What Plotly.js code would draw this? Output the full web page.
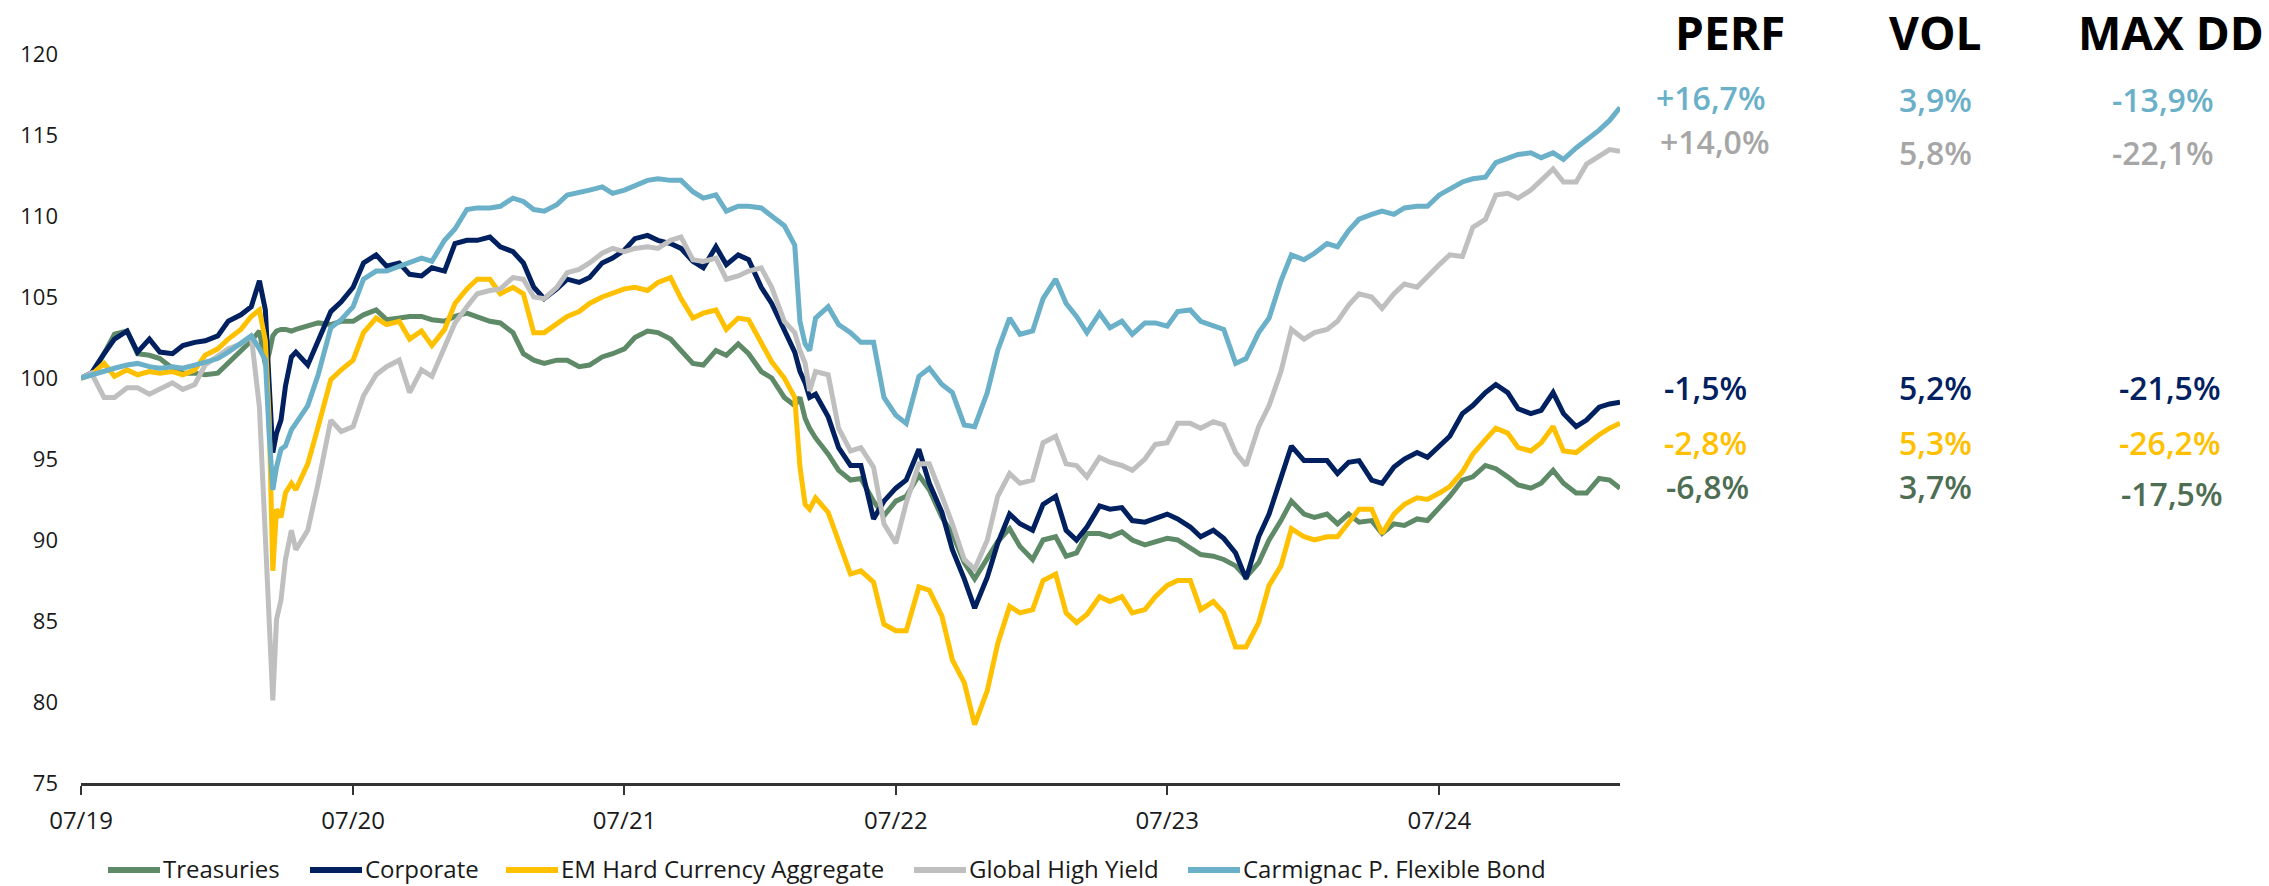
<!DOCTYPE html>
<html><head><meta charset="utf-8">
<script src="https://cdn.plot.ly/plotly-3.0.1.min.js"></script>
<style>html,body{margin:0;padding:0;background:#fff;} #chart{width:2269px;height:886px;}</style>
</head><body><div id="chart"></div>
<script>
// ---------------- DATA ----------------
const dates = [
 '2019-07-01','2019-07-15','2019-08-01','2019-08-15','2019-09-01','2019-09-15','2019-10-01','2019-10-15','2019-11-01','2019-11-15','2019-12-01','2019-12-15',
 '2020-01-01','2020-01-15','2020-02-01','2020-02-15','2020-02-26','2020-03-05','2020-03-10','2020-03-15','2020-03-20','2020-03-26','2020-04-01','2020-04-09','2020-04-15','2020-05-01','2020-05-15','2020-06-01','2020-06-15',
 '2020-07-01','2020-07-15','2020-08-01','2020-08-15','2020-09-01','2020-09-15','2020-10-01','2020-10-15','2020-11-01','2020-11-15','2020-12-01','2020-12-15',
 '2021-01-01','2021-01-15','2021-02-01','2021-02-15','2021-03-01','2021-03-15','2021-04-01','2021-04-15','2021-05-01','2021-05-15','2021-06-01','2021-06-15',
 '2021-07-01','2021-07-15','2021-08-01','2021-08-15','2021-09-01','2021-09-15','2021-10-01','2021-10-15','2021-11-01','2021-11-15','2021-12-01','2021-12-15',
 '2022-01-01','2022-01-15','2022-02-01','2022-02-15','2022-02-22','2022-03-01','2022-03-07','2022-03-15','2022-04-01','2022-04-15','2022-05-01','2022-05-15','2022-06-01','2022-06-15',
 '2022-07-01','2022-07-15','2022-08-01','2022-08-15','2022-09-01','2022-09-15','2022-10-01','2022-10-15','2022-11-01','2022-11-15','2022-12-01','2022-12-15',
 '2023-01-01','2023-01-15','2023-02-01','2023-02-15','2023-03-01','2023-03-15','2023-04-01','2023-04-15','2023-05-01','2023-05-15','2023-06-01','2023-06-15',
 '2023-07-01','2023-07-15','2023-08-01','2023-08-15','2023-09-01','2023-09-15','2023-10-01','2023-10-15','2023-11-01','2023-11-15','2023-12-01','2023-12-15',
 '2024-01-01','2024-01-15','2024-02-01','2024-02-15','2024-03-01','2024-03-15','2024-04-01','2024-04-15','2024-05-01','2024-05-15','2024-06-01','2024-06-15',
 '2024-07-01','2024-07-15','2024-08-01','2024-08-15','2024-09-01','2024-09-15','2024-10-01','2024-10-15','2024-11-01','2024-11-15','2024-12-01','2024-12-15',
 '2025-01-01','2025-01-15','2025-02-01','2025-02-15','2025-03-01'
];

const treasuries = [
 100.0,100.2,101.5,102.7,102.9,101.5,101.4,101.2,100.6,100.3,100.3,100.2,
 100.3,100.9,101.6,102.3,102.9,100.8,101.5,102.6,102.9,103.0,103.0,102.9,103.0,103.2,103.4,103.3,103.5,
 103.5,103.9,104.2,103.6,103.7,103.8,103.8,103.6,103.5,103.8,104.0,103.8,
 103.5,103.4,102.8,101.5,101.1,100.9,101.1,101.1,100.7,100.8,101.3,101.5,
 101.8,102.5,102.9,102.8,102.4,101.7,100.9,100.8,101.7,101.4,102.1,101.5,
 100.4,100.0,98.8,98.3,98.8,97.5,96.9,96.3,95.3,94.3,93.7,93.8,92.4,91.5,
 92.4,92.7,94.0,93.1,91.4,90.4,88.6,87.6,88.8,89.9,90.7,89.6,
 88.8,90.0,90.2,89.0,89.2,90.4,90.4,90.2,90.5,90.0,89.7,89.9,
 90.1,90.0,89.5,89.1,89.0,88.8,88.4,87.7,88.6,90.0,91.2,92.4,
 91.6,91.4,91.6,91.0,91.6,91.1,91.2,90.4,91.0,90.9,91.3,91.2,
 92.0,92.7,93.7,93.9,94.6,94.4,93.9,93.4,93.2,93.5,94.3,93.5,
 92.9,92.9,93.8,93.7,93.2
];

const corporate = [
 100.0,100.3,101.5,102.4,102.9,101.6,102.4,101.6,101.5,102.0,102.2,102.3,
 102.6,103.5,103.9,104.4,106.0,104.2,99.7,95.4,96.6,97.4,99.5,101.3,101.6,100.8,102.3,104.1,104.7,
 105.6,107.1,107.6,106.9,107.1,106.4,106.3,106.8,106.6,108.3,108.5,108.5,
 108.7,108.1,107.8,107.1,105.6,104.9,105.5,106.1,105.9,106.2,107.1,107.4,
 107.9,108.6,108.8,108.5,108.3,108.0,107.2,106.8,108.1,107.0,107.6,107.3,
 105.6,104.6,103.0,101.6,100.4,99.7,98.8,99.0,97.6,95.7,94.6,94.6,91.3,92.4,
 93.2,93.7,95.6,93.5,91.7,89.4,87.6,85.8,87.7,89.8,91.6,91.0,
 90.6,92.2,92.7,90.6,90.0,90.8,92.1,91.9,92.0,91.2,91.1,91.3,
 91.6,91.3,90.8,90.2,90.6,90.1,89.2,87.6,90.2,91.6,93.9,95.8,
 94.9,94.9,94.9,94.1,94.8,94.9,93.7,93.5,94.5,95.0,95.4,95.1,
 95.8,96.4,97.8,98.3,99.1,99.6,99.1,98.1,97.8,98.0,99.1,97.8,
 97.0,97.4,98.2,98.4,98.5
];

const emHardCurrency = [
 100.0,100.2,100.9,100.1,100.5,100.2,100.4,100.3,100.4,100.2,100.5,101.4,
 101.8,102.4,103.0,103.8,104.2,102.3,97.6,88.1,91.9,91.4,92.9,93.5,93.1,94.7,97.0,99.9,100.5,
 101.1,102.8,103.7,103.3,103.5,102.4,102.9,102.0,103.0,104.6,105.5,106.1,
 106.1,105.2,105.6,105.2,102.8,102.8,103.4,103.8,104.1,104.6,105.0,105.2,
 105.5,105.6,105.4,105.9,106.2,104.9,103.7,104.0,104.2,103.0,103.7,103.6,
 102.1,101.0,100.0,98.8,94.5,92.2,91.9,92.6,91.7,89.9,87.9,88.1,87.4,84.8,
 84.4,84.4,87.1,86.9,85.3,82.6,81.2,78.6,80.7,83.6,85.9,85.5,
 85.7,87.5,87.9,85.5,84.9,85.4,86.5,86.2,86.5,85.5,85.7,86.5,
 87.2,87.5,87.5,85.7,86.2,85.5,83.4,83.4,84.9,87.2,88.4,90.7,
 90.2,90.0,90.2,90.2,91.1,91.9,91.9,90.4,91.6,92.2,92.6,92.5,
 92.9,93.3,94.2,95.3,96.2,96.9,96.6,95.7,95.5,96.0,97.0,95.5,
 95.4,95.9,96.5,96.9,97.2
];

const globalHighYield = [
 100.0,100.3,98.8,98.8,99.4,99.4,99.0,99.3,99.7,99.3,99.6,100.8,
 101.4,101.8,102.1,102.6,98.2,90.4,85.3,80.1,85.1,86.3,88.8,90.6,89.4,90.6,93.5,97.4,96.7,
 97.0,98.9,100.2,100.7,101.1,99.1,100.5,100.1,101.9,103.4,104.4,105.2,
 105.4,105.5,106.2,106.1,105.0,104.9,105.6,106.5,106.7,107.1,107.7,108.0,
 107.8,108.0,108.1,108.0,108.5,108.7,107.3,107.2,107.4,106.1,106.3,106.6,
 106.8,105.6,103.5,102.8,101.7,100.9,99.2,100.4,100.2,96.9,95.5,95.7,94.5,91.0,
 89.8,92.3,94.7,94.7,92.7,91.0,88.8,88.2,90.0,92.7,94.1,93.5,
 93.7,96.0,96.4,94.7,94.6,93.9,95.1,94.8,94.6,94.3,95.0,95.9,
 96.0,97.2,97.2,96.9,97.3,97.1,95.4,94.6,97.0,98.3,100.4,103.0,
 102.4,102.8,103.0,103.5,104.5,105.2,105.0,104.3,105.2,105.8,105.6,106.3,
 107.0,107.6,107.5,109.3,109.8,111.3,111.4,111.1,111.6,112.2,112.9,112.1,
 112.1,113.2,113.7,114.1,114.0
];

const carmignacFlexibleBond = [
 100.0,100.2,100.4,100.6,100.8,100.9,100.7,100.6,100.7,100.6,100.8,101.0,
 101.2,101.6,102.1,102.6,101.8,101.1,96.6,93.1,94.5,95.6,95.8,96.8,97.2,98.3,100.2,103.1,103.6,
 104.4,106.1,106.6,106.6,106.9,107.1,107.4,107.2,108.5,109.2,110.4,110.5,
 110.5,110.6,111.1,110.9,110.4,110.3,110.7,111.3,111.5,111.6,111.8,111.4,
 111.6,111.9,112.2,112.3,112.2,112.2,111.5,111.1,111.3,110.3,110.6,110.6,
 110.5,110.0,109.4,108.2,103.5,102.1,101.7,103.7,104.4,103.3,102.8,102.2,102.2,98.8,
 97.7,97.2,100.1,100.6,99.6,99.1,97.1,97.0,99.1,101.7,103.7,102.7,
 102.9,104.9,106.1,104.6,103.8,102.8,104.0,103.1,103.5,102.7,103.4,103.4,
 103.2,104.1,104.2,103.5,103.2,103.0,100.9,101.2,102.8,103.7,106.0,107.6,
 107.3,107.7,108.3,108.1,109.1,109.8,110.1,110.3,110.1,110.5,110.6,110.6,
 111.3,111.7,112.1,112.3,112.4,113.3,113.6,113.8,113.9,113.6,113.9,113.5,
 114.2,114.7,115.3,115.9,116.7
];

const seriesNames = ['Treasuries','Corporate','EM Hard Currency Aggregate','Global High Yield','Carmignac P. Flexible Bond'];
const seriesValues = [treasuries, corporate, emHardCurrency, globalHighYield, carmignacFlexibleBond];
const lineColors = ['#5F8A67','#002060','#FFC000','#BFBFBF','#6AB0C8'];

// Statistics table (rows top to bottom)
const tableHeaders = ['PERF','VOL','MAX DD'];
const tableRowNames = ['Carmignac P. Flexible Bond','Global High Yield','Corporate','EM Hard Currency Aggregate','Treasuries'];
const perfValues = ['+16,7%','+14,0%','-1,5%','-2,8%','-6,8%'];
const volValues = ['3,9%','5,8%','5,2%','5,3%','3,7%'];
const maxDDValues = ['-13,9%','-22,1%','-21,5%','-26,2%','-17,5%'];
const tableColors = ['#6AB0C8','#A6A6A6','#002060','#FFC000','#4E6E54'];

// ---------------- LAYOUT HELPERS ----------------
const W = 2269, H = 886;
const M = {l:81, r:649, t:54, b:103};
const PW = W - M.l - M.r, PH = H - M.t - M.b;
const px2x = px => (px - M.l) / PW;
const px2y = py => (H - M.b - py) / PH;

const traces = seriesNames.map((n, i) => ({
  type: 'scatter', mode: 'lines', name: n,
  x: dates, y: seriesValues[i],
  line: {color: lineColors[i], width: 5},
  hoverinfo: 'skip'
}));

const annotations = [];
const shapes = [];

// table headers
const headerX = [1730, 1935, 2171];
tableHeaders.forEach((h, j) => annotations.push({
  xref:'paper', yref:'paper', x: px2x(headerX[j]), y: px2y(32), xanchor:'center', yanchor:'middle',
  text: h, showarrow:false, borderpad:0, font:{family:'Open Sans', size:46, weight:700, color:'#000'}
}));
// table values
const rowY = [[98,99,99],[142,152,152],[387,387,387],[442,442,442],[487,487,493]];
const colX = [[1711,1935,2163],[1715,1935,2163],[1705,1935,2170],[1705,1935,2170],[1707,1935,2172]];
const cols = [perfValues, volValues, maxDDValues];
for (let r = 0; r < 5; r++) {
  for (let c = 0; c < 3; c++) {
    annotations.push({
      xref:'paper', yref:'paper', x: px2x(colX[r][c]), y: px2y(rowY[r][c]), xanchor:'center', yanchor:'middle',
      text: cols[c][r], showarrow:false, font:{family:'Open Sans', size:32, weight:600, color: tableColors[r]}
    });
  }
}

// manual legend
const legSym = [[108,160],[310,362],[506,558],[914,966],[1188,1240]];
const legY = 868;
seriesNames.forEach((n, i) => {
  shapes.push({type:'line', xref:'paper', yref:'paper',
    x0: px2x(legSym[i][0]), x1: px2x(legSym[i][1]), y0: px2y(legY + 2), y1: px2y(legY + 2),
    line:{color: lineColors[i], width:6}});
  annotations.push({xref:'paper', yref:'paper', x: px2x(legSym[i][1] + 2), y: px2y(legY),
    xanchor:'left', yanchor:'middle', text: n, showarrow:false, borderpad:0,
    font:{family:'Open Sans', size:24, color:'#1a1a1a'}});
});

const layout = {
  width: W, height: H, margin: M,
  paper_bgcolor:'#ffffff', plot_bgcolor:'#ffffff',
  showlegend: false,
  font: {family:'Open Sans', color:'#1a1a1a'},
  xaxis: {
    type:'date', range:['2019-07-01','2025-03-01'], tick0:'2019-07-01', dtick:'M12', tickformat:'%m/%y',
    ticks:'outside', ticklen:9, tickwidth:2, tickcolor:'#333333',
    showline:true, linecolor:'#333333', linewidth:2.5,
    showgrid:false, zeroline:false,
    tickfont:{family:'Open Sans', size:24, color:'#1a1a1a'}, ticklabelstandoff: 6
  },
  yaxis: {
    range:[75,120], tick0:75, dtick:5, showgrid:false, zeroline:false, showline:false, ticks:'',
    tickfont:{family:'Open Sans', size:22, color:'#1a1a1a'}, ticklabelstandoff: 22
  },
  annotations, shapes
};

Plotly.newPlot('chart', traces, layout, {displayModeBar:false, staticPlot:true});
</script>
</body></html>
